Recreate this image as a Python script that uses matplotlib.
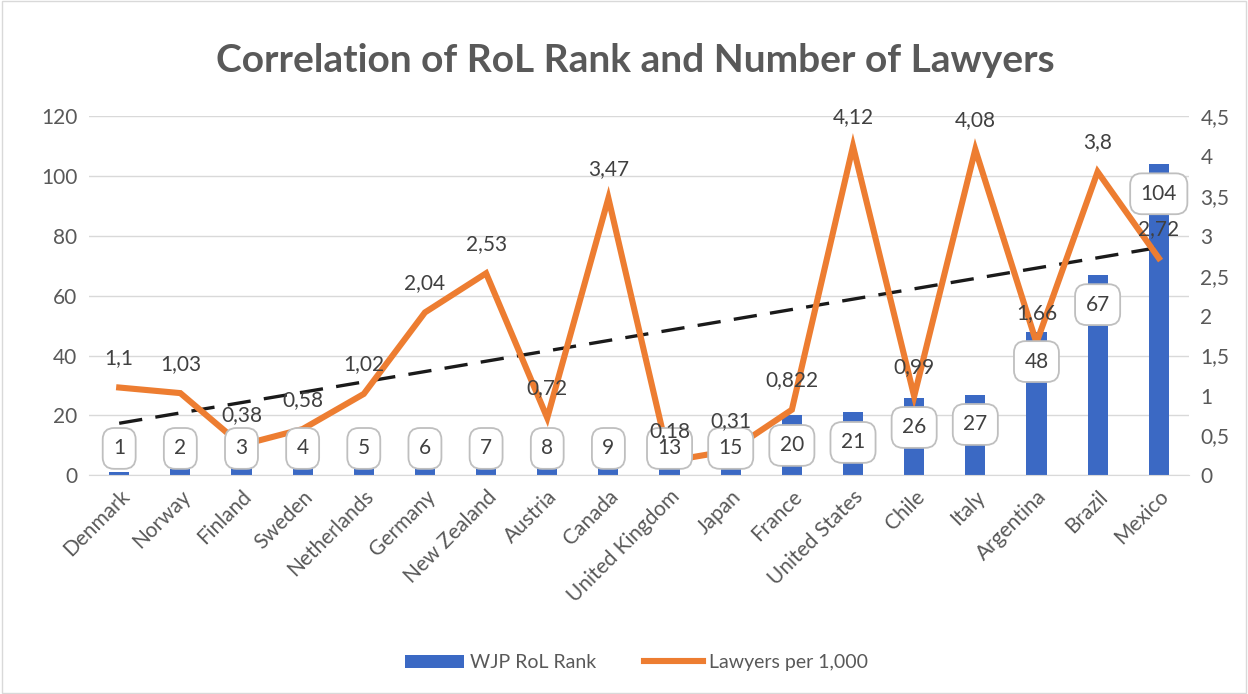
import matplotlib.pyplot as plt
import numpy as np

plt.rcParams['font.family'] = ['Lato', 'DejaVu Sans']

countries = ['Denmark', 'Norway', 'Finland', 'Sweden', 'Netherlands', 'Germany',
             'New Zealand', 'Austria', 'Canada', 'United Kingdom', 'Japan', 'France',
             'United States', 'Chile', 'Italy', 'Argentina', 'Brazil', 'Mexico']
rank = [1, 2, 3, 4, 5, 6, 7, 8, 9, 13, 15, 20, 21, 26, 27, 48, 67, 104]
lawyers = [1.1, 1.03, 0.38, 0.58, 1.02, 2.04, 2.53, 0.72, 3.47, 0.18, 0.31, 0.822,
           4.12, 0.99, 4.08, 1.66, 3.8, 2.72]

grey = '#595959'
x = np.arange(len(countries))

fig = plt.figure(figsize=(12.48, 6.94), dpi=100)
ax = fig.add_axes([0.071, 0.315, 0.882, 0.518])
ax2 = ax.twinx()

bars = ax.bar(x, rank, width=0.33, color='#3B69C4', label='WJP RoL Rank', zorder=2)
ax.set_ylim(0, 120)
ax.set_yticks(range(0, 121, 20))
ax.set_xlim(-0.5, len(x) - 0.5)
ax.set_xticks(x)
ax.set_xticklabels(countries, rotation=45, ha='right', rotation_mode='anchor')
ax.grid(True, axis='y', color='#D9D9D9', linewidth=1, zorder=0)
ax.set_axisbelow(True)

ax2.set_ylim(0, 4.5)
ax2.set_yticks(np.arange(0, 4.51, 0.5))
ax2.set_yticklabels([('%g' % v).replace('.', ',') for v in np.arange(0, 4.51, 0.5)])

for a in (ax, ax2):
    for s in a.spines.values():
        s.set_visible(False)
    a.tick_params(length=0, labelsize=15, colors=grey, pad=8)
ax.spines['bottom'].set_visible(True)
ax.spines['bottom'].set_color('#D9D9D9')

# trendline (linear fit of lawyers per 1,000)
coef = np.polyfit(x, lawyers, 1)
ax2.plot(x, np.polyval(coef, x), color='#1a1a1a', linestyle=(0, (7, 4)), linewidth=2.4, zorder=3)

line, = ax2.plot(x, lawyers, color='#ED7D31', linewidth=4.4, solid_joinstyle='miter',
                 label='Lawyers per 1,000', zorder=4)

# bar value boxes drawn in ax2 so they sit over the line
for xi, r in zip(x, rank):
    ypos = max(r - 10, 9)
    ax2.text(xi, ypos, str(r), transform=ax.transData, ha='center', va='center', fontsize=15,
             color='#404040', zorder=5,
             bbox=dict(boxstyle='round,pad=0.5,rounding_size=0.55', fc='white', ec='#BFBFBF', lw=1.3))

for xi, v in zip(x, lawyers):
    ax2.annotate(('%g' % v).replace('.', ','), (xi, v), xytext=(0, 14), textcoords='offset points',
                 ha='center', va='bottom', fontsize=15, color='#404040', zorder=6)

fig.text(0.509, 0.913, 'Correlation of RoL Rank and Number of Lawyers', ha='center', va='center',
         fontsize=28, fontweight='bold', color=grey)

fig.legend(handles=[bars, line], loc='center', bbox_to_anchor=(0.51, 0.045), ncol=2, frameon=False,
           fontsize=14, labelcolor=grey, handlelength=3.0, columnspacing=2.5, handletextpad=0.3)

fig.add_artist(plt.Rectangle((0.002, 0.002), 0.996, 0.996, transform=fig.transFigure,
                             fill=False, ec='#D9D9D9', lw=1))

fig.savefig('out.png', dpi=100)
